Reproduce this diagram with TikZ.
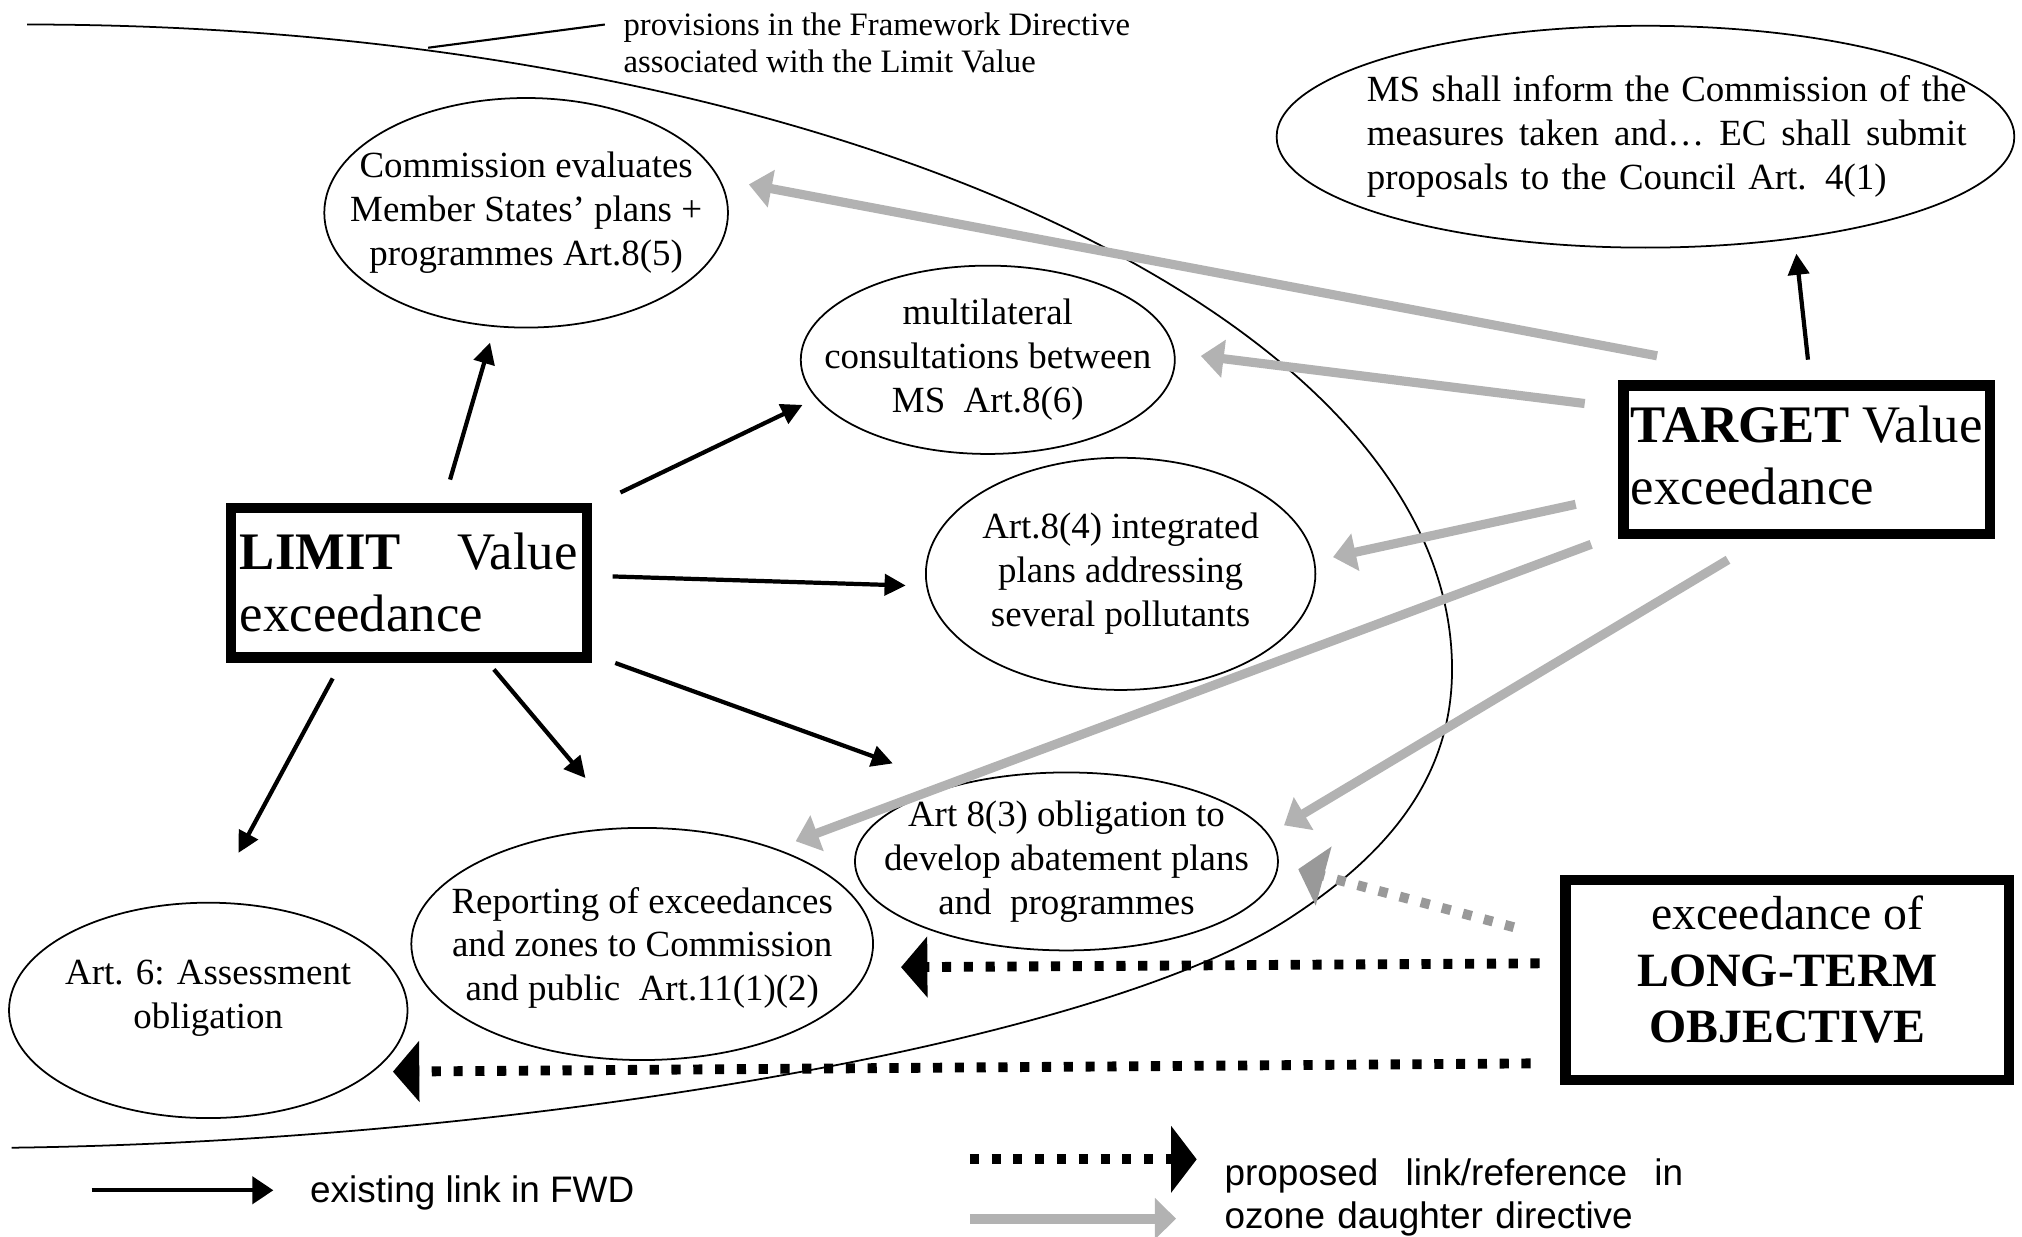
\documentclass[tikz,border=0pt]{standalone}
\usepackage{fontspec}
\setmainfont{Liberation Serif}
\newfontfamily\keyfont{Liberation Sans}
\usetikzlibrary{shapes.geometric,arrows.meta}

\definecolor{ozonegray}{gray}{0.70}
\definecolor{ozonedot}{gray}{0.60}
\newcommand{\ux}{0.3669pt}

\tikzset{
  bubble/.style={draw, ellipse, line width=0.5pt, inner sep=-40pt, align=center,
    font=\fontsize{10.5}{12.5}\selectfont},
  bigbox/.style={draw, line width=3pt, inner sep=0pt,
    font=\fontsize{15}{17.6}\selectfont},
  fwd/.style={line width=1.2pt, -{Triangle[length=6pt,width=6pt]}},
  ozone/.style={ozonegray, line width=2.6pt, -{Triangle[length=6.5pt,width=10.5pt]}},
  proposed/.style={line width=2.8pt, dash pattern=on 2.6pt off 3.6pt,
    -{Triangle[length=7.5pt,width=17pt]}},
}

\begin{document}
\begin{tikzpicture}[x=0.012895cm, y=-0.012895cm]
\useasboundingbox (0,0) rectangle (1568,959);

% border of the framework directive
\draw[line width=0.5pt] (21,19) .. controls (631,19) and (1126,243) .. (1126,519)
  .. controls (1126,600) and (1080,660) .. (1000,712)
  .. controls (850,810) and (400,885) .. (9,890);
\coordinate (fwdpt) at (332,37);
\node[anchor=west, inner sep=0pt, align=left, font=\fontsize{9.3}{10.6}\selectfont]
  (fwdnote) at (483,33) {provisions in the Framework Directive\\associated with the Limit Value};
\draw[line width=0.6pt] (fwdpt) -- ([shift={(-14,-14)}]fwdnote.west);

% provisions
\node[bubble, minimum width=313*\ux, minimum height=178*\ux] (comm) at (408,165)
  {Commission evaluates\\Member States' plans +\\programmes Art.8(5)};
\node[bubble, minimum width=290*\ux, minimum height=146*\ux] (multi) at (766,279)
  {multilateral\\consultations between\\MS\ \ Art.8(6)};
\node[bubble, minimum width=302*\ux, minimum height=180*\ux] (integ) at (869,445)
  {Art.8(4) integrated\\plans addressing\\several pollutants};
\node[bubble, minimum width=328*\ux, minimum height=138*\ux] (abate) at (827,668)
  {Art 8(3) obligation to\\develop abatement plans\\and\ \ programmes};
\node[bubble, minimum width=358*\ux, minimum height=180*\ux, text depth=-2.9pt] (report) at (498,732)
  {Reporting of exceedances\\and zones to Commission\\and public\ \ Art.11(1)(2)};
\node[bubble, minimum width=309*\ux, minimum height=167*\ux, text depth=9.3pt] (assess) at (161.5,783.5)
  {Art. 6: Assessment\\obligation};
\node[bubble, minimum width=572*\ux, minimum height=172*\ux, align=left, text width=182.7pt] (inform) at (1276,106)
  {\hspace*{12.1pt}\makebox[170.6pt][l]{MS\hfill shall\hfill inform\hfill the\hfill Commission\hfill of\hfill the}\\
   \hspace*{12.1pt}\makebox[170.6pt][l]{measures\hfill taken\hfill and\dots\hfill EC\hfill shall\hfill submit}\\
   \hspace*{12.1pt}proposals to the Council Art. 4(1)};

% exceedances
\node[bigbox, minimum width=276*\ux, minimum height=116*\ux, text width=96.1pt, align=left]
  (limit) at (317,452) {\makebox[96.1pt][l]{\textbf{LIMIT}\hfill Value}\\exceedance};
\node[bigbox, minimum width=284*\ux, minimum height=115*\ux, text width=100pt, align=left,
  text depth=20.4pt]
  (target) at (1401,356.5) {\makebox[100pt][l]{\textbf{TARGET}\hfill Value}\\exceedance};
\node[bigbox, minimum width=344*\ux, minimum height=155*\ux, align=center, text depth=6pt,
  font=\fontsize{13.6}{16.1}\selectfont]
  (longterm) at (1386,760) {exceedance of\\\textbf{LONG-TERM}\\\textbf{OBJECTIVE}};

% existing links
\draw[fwd] ([shift={(32,-18)}]limit.north) -- ([shift={(-28,11)}]comm.south);
\draw[fwd] ([shift={(22,-8)}]limit.north east) -- ([shift={(2,35)}]multi.west);
\draw[fwd] ([shift={(16,-5)}]limit.east) -- ([shift={(-15,9)}]integ.west);
\draw[fwd] ([shift={(18,0)}]limit.south east) -- ([shift={(30,-76)}]abate.west);
\draw[fwd] ([shift={(66,5)}]limit.south) -- ([shift={(-44,-38)}]report.north);
\draw[fwd] ([shift={(-59,12)}]limit.south) -- ([shift={(23.5,-38)}]assess.north);
\draw[fwd] ([shift={(1,-16)}]target.north) -- ([shift={(117,4)}]inform.south);

% ozone links
\draw[ozone] ([shift={(-116,-19)}]target.north) -- ([shift={(15.5,-22)}]comm.east);
\draw[ozone] ([shift={(-26,18)}]target.north west) -- ([shift={(19.5,-3)}]multi.east);
\draw[ozone] ([shift={(-33,-27)}]target.south west) -- ([shift={(13,-13)}]integ.east);
\draw[ozone] ([shift={(-21,4)}]target.south west) -- ([shift={(119,11)}]report.north);
\draw[ozone] ([shift={(-61,16)}]target.south) -- ([shift={(4,-28)}]abate.east);

% proposed links
\draw[proposed, ozonedot] ([shift={(-36,-41)}]longterm.west) -- ([shift={(15,6)}]abate.east);
\draw[proposed] ([shift={(-16,-13)}]longterm.west) -- ([shift={(21,18)}]report.east);
\draw[proposed] ([shift={(-23,-17)}]longterm.south west) -- ([shift={(-12,47.5)}]assess.east);

% key
\coordinate (keyA) at (71,923);
\coordinate (keyB) at (212,923);
\coordinate (keyC) at (752,899);
\coordinate (keyD) at (928,899);
\coordinate (keyE) at (752,945);
\coordinate (keyF) at (912,945);
\draw[fwd, -{Triangle[length=6pt,width=7.7pt]}] (keyA) -- (keyB);
\draw[proposed, -{Triangle[length=7.3pt,width=18.7pt]}] (keyC) -- (keyD);
\draw[ozone, line width=2.9pt, -{Triangle[length=6pt,width=11.4pt]}] (keyE) -- (keyF);
\node[anchor=west, inner sep=0pt, font=\keyfont\fontsize{10.5}{11.7}\selectfont]
  (keyfwd) at (240,925) {existing link in FWD};
\node[anchor=west, inner sep=0pt, align=left, text width=130.5pt,
  font=\keyfont\fontsize{10.5}{12.1}\selectfont]
  (keyprop) at (949,928.5) {\makebox[130.5pt][l]{proposed\hfill link/reference\hfill in}\\ozone daughter directive};
\end{tikzpicture}
\end{document}
